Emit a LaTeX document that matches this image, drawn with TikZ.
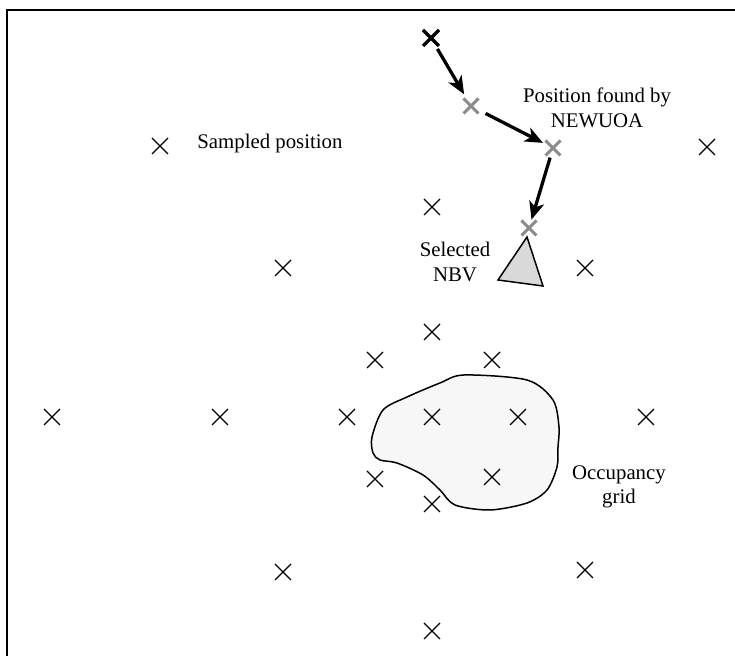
\documentclass[tikz,border=0pt]{standalone}
\usepackage{fontspec}
\setmainfont{Liberation Serif}
\usetikzlibrary{shapes.misc,arrows.meta}
\definecolor{foundgray}{gray}{0.55}
\definecolor{nbvgray}{gray}{0.85}
\definecolor{gridfill}{gray}{0.97}
\begin{document}
\begin{tikzpicture}[x=0.5pt,y=-0.5pt,
 samp/.style={cross out,draw=black,line width=0.65pt,minimum size=8pt,inner sep=0pt,outer sep=0pt},
 startx/.style={cross out,draw=black,line width=1.6pt,minimum size=8pt,inner sep=0pt,outer sep=0pt},
 found/.style={cross out,draw=foundgray,line width=1.5pt,minimum size=7.5pt,inner sep=0pt,outer sep=0pt},
 arr/.style={line width=1.65pt,-{Stealth[length=9pt,width=7.5pt,inset=2.5pt]}},
 lbl/.style={align=center,font=\fontsize{10.4}{12.2}\selectfont,inner sep=0pt}]
\useasboundingbox (0,0) rectangle (735,656);
\draw[line width=1pt] (7,656) -- (7,10) -- (735,10);

% occupancy grid
\draw[line width=0.75pt,fill=gridfill] plot[smooth cycle,tension=0.5] coordinates {
 (464,375) (527,380) (553,400) (559,427) (558,447) (557,467) (547,490) (527,503)
 (490,510) (455,505) (440,490) (423,475) (397,463) (380,460) (373,453) (372,437)
 (383,410) (407,397) (440,383)};

% sampled positions
\node[samp] (p1) at (160,146) {};
\node[samp] (p2) at (707,147) {};
\node[samp] (p3) at (432,207) {};
\node[samp] (p4) at (283,268) {};
\node[samp] (p5) at (585,268) {};
\node[samp] (p6) at (432,332) {};
\node[samp] (p7) at (375,360) {};
\node[samp] (p8) at (492,360) {};
\node[samp] (p9) at (52,417) {};
\node[samp] (p10) at (220,417) {};
\node[samp] (p11) at (347,417) {};
\node[samp] (p12) at (432,417) {};
\node[samp] (p13) at (518,417) {};
\node[samp] (p14) at (646,417) {};
\node[samp] (p15) at (375,479) {};
\node[samp] (p16) at (492,477) {};
\node[samp] (p17) at (432,504) {};
\node[samp] (p18) at (283,572) {};
\node[samp] (p19) at (585,570) {};
\node[samp] (p20) at (432,631) {};

% NEWUOA path
\node[startx] (s0) at (431,38) {};
\node[found] (g1) at (471,106) {};
\node[found] (g2) at (553,148) {};
\node[found] (g3) at (529,228) {};
\draw[arr,shorten <=1.7pt,shorten >=2.4pt] (s0) -- (g1);
\draw[arr,shorten <=4pt,shorten >=1.4pt] (g1) -- (g2);
\draw[arr,shorten <=1.1pt,shorten >=0.4pt] (g2) -- (g3);

% selected NBV
\coordinate (t1) at (527,237);
\coordinate (t2) at (498,280);
\coordinate (t3) at (543,286);
\draw[line width=0.75pt,fill=nbvgray] (t1) -- (t2) -- (t3) -- cycle;

% labels
\node[lbl,anchor=base west] (lsamp) at (197,149) {Sampled position};
\node[lbl] (lfound) at (597,108) {Position found by\\NEWUOA};
\node[lbl] (lnbv) at (455,262) {Selected\\NBV};
\node[lbl] (lgrid) at (619,487) {Occupancy\\grid};
\end{tikzpicture}
\end{document}
